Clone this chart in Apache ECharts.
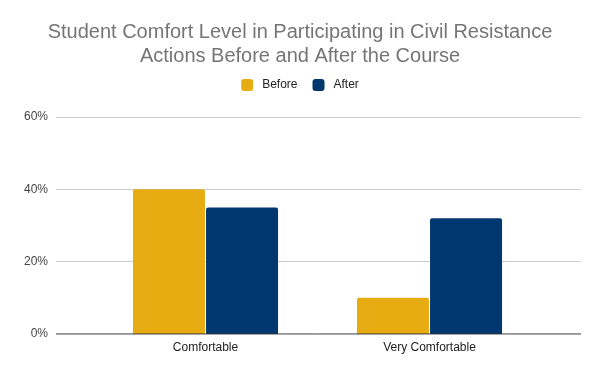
<!DOCTYPE html>
<html><head><meta charset="utf-8">
<script src="https://cdn.jsdelivr.net/npm/echarts@6/dist/echarts.min.js"></script>
<style>html,body{margin:0;padding:0;background:#fff}#c{width:600px;height:371px}</style>
</head><body><div id="c"></div>
<script>
const categories = ['Comfortable', 'Very Comfortable'];
const before = [40, 10];
const after = [35, 32];
const yTicks = [0, 20, 40, 60];

const chart = echarts.init(document.getElementById('c'));
chart.setOption({
  animation: false,
  title: {
    text: 'Student Comfort Level in Participating in Civil Resistance\nActions Before and After the Course',
    left: 'center', top: 15,
    textStyle: { fontFamily: 'Liberation Sans', fontSize: 20, fontWeight: 'normal', color: '#757575', lineHeight: 24 }
  },
  legend: {
    top: 74, left: 'center', itemWidth: 12, itemHeight: 12, itemGap: 15,
    icon: 'roundRect',
    textStyle: { fontFamily: 'Liberation Sans', fontSize: 12, color: '#222', padding: [0, 0, 0, 4] },
    data: ['Before', 'After']
  },
  grid: [
    { left: 56, right: 19, top: 117, bottom: 37 },
    { left: 93.5, right: 58.5, top: 117, bottom: 37 }
  ],
  xAxis: [
    { gridIndex: 0, type: 'value', show: false, min: 0, max: 1 },
    { gridIndex: 1, type: 'category', data: categories,
      axisLine: { show: false }, axisTick: { show: false },
      axisLabel: { fontFamily: 'Liberation Sans', fontSize: 12, color: '#222', margin: 8 } }
  ],
  yAxis: [
    { gridIndex: 0, type: 'value', min: yTicks[0], max: yTicks[yTicks.length - 1], interval: 20,
      axisLabel: { formatter: '{value}%', fontFamily: 'Liberation Sans', fontSize: 12, color: '#444', margin: 8 },
      axisLine: { show: false }, axisTick: { show: false },
      splitLine: { lineStyle: { color: '#cccccc', width: 1 } } },
    { gridIndex: 1, type: 'value', min: 0, max: 60, interval: 20, show: false, splitLine: { show: false } }
  ],
  series: [
    { type: 'line', xAxisIndex: 0, yAxisIndex: 0, data: [[0, 0], [1, 0]], symbol: 'none',
      lineStyle: { color: '#333', width: 1 }, silent: true, z: 5, legendHoverLink: false },
    { name: 'Before', type: 'bar', xAxisIndex: 1, yAxisIndex: 1, data: before, barWidth: 72, barGap: '1.5%',
      itemStyle: { color: '#e6ac12', borderRadius: [2, 2, 0, 0] } },
    { name: 'After', type: 'bar', xAxisIndex: 1, yAxisIndex: 1, data: after, barWidth: 72,
      itemStyle: { color: '#00376f', borderRadius: [2, 2, 0, 0] } }
  ]
});
</script></body></html>
